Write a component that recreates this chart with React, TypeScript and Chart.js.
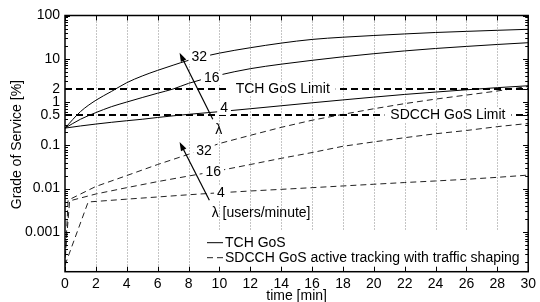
import React, { useEffect, useRef } from "react";
import { Chart, registerables } from "chart.js";

Chart.register(...registerables);

// ---------- data ----------
const yTickValues = [0.001, 0.01, 0.1, 0.5, 1, 2, 10, 100];
const tchLimit = 2;
const sdcchLimit = 0.5;

const tchTime = [0, 1, 2, 3, 4, 5, 6, 7, 8, 10, 12, 14, 16, 18, 20, 22, 24, 26, 28, 30];
const tchGos32 = [0.25, 0.6, 1.1, 1.75, 2.8, 4.0, 5.4, 7.1, 9.2, 13.5, 18, 23, 28, 31.5, 34.5, 37.5, 40.5, 43, 45.5, 48];
const tchGos16 = [0.25, 0.4, 0.57, 0.78, 1.0, 1.27, 1.6, 2.0, 2.7, 4.2, 5.9, 7.5, 9.2, 11.1, 13.1, 15.2, 17.3, 19.3, 21.4, 23.5];
const tchGos4 = [0.25, 0.28, 0.31, 0.34, 0.37, 0.4, 0.44, 0.48, 0.52, 0.6, 0.7, 0.82, 0.96, 1.12, 1.3, 1.5, 1.7, 1.92, 2.15, 2.38];

const sdcchTime32 = [0, 0.2, 2, 4, 6, 8, 10, 12, 14, 16, 18, 20, 22, 24, 26, 28, 30];
const sdcchGos32 = [0.00016, 0.0054, 0.0112, 0.02, 0.036, 0.062, 0.11, 0.17, 0.26, 0.38, 0.52, 0.7, 0.92, 1.17, 1.45, 1.8, 2.3];
const sdcchTime16 = [0, 0.3, 2, 4, 6, 8, 10, 12, 14, 16, 18, 20, 22, 24, 26, 28, 30];
const sdcchGos16 = [0.00025, 0.0052, 0.0075, 0.0105, 0.0145, 0.0195, 0.026, 0.036, 0.05, 0.068, 0.095, 0.12, 0.15, 0.185, 0.22, 0.27, 0.32];
const sdcchTime4 = [0, 1.5, 4, 6, 8, 10, 12, 14, 16, 18, 20, 22, 24, 26, 28, 30];
const sdcchGos4 = [0.00017, 0.0049, 0.0057, 0.0064, 0.0072, 0.008, 0.0088, 0.0096, 0.0105, 0.0115, 0.0126, 0.0138, 0.015, 0.0164, 0.0182, 0.0205];

// annotations (data coordinates)
const curveLabels = [
  { text: "32", t: 8.7, v: 11 },
  { text: "16", t: 9.5, v: 3.6 },
  { text: "4", t: 10.3, v: 0.73 },
  { text: "32", t: 9.0, v: 0.077 },
  { text: "16", t: 9.6, v: 0.024 },
  { text: "4", t: 10.1, v: 0.0079 },
];
const limitLabels = [
  { text: "TCH GoS Limit", t: 14.1, v: tchLimit },
  { text: "SDCCH GoS Limit", t: 24.8, v: sdcchLimit },
];
const arrowFrom = [[9.57, 0.4], [9.35, 0.0054]];
const arrowTo = [[7.42, 13.8], [7.42, 0.12]];
const lambdaLabels = [
  { text: "λ", t: 9.95, v: 0.225, align: "center" },
  { text: "λ [users/minute]", t: 9.5, v: 0.0027, align: "left" },
];
const legendItems = ["TCH GoS", "SDCCH GoS active tracking with traffic shaping"];

const FONT = '14px "Liberation Sans", Arial, Helvetica, sans-serif';

const pts = (xs: number[], ys: number[]) => xs.map((x, i) => ({ x, y: ys[i] }));

const overlay = {
  id: "overlay",
  beforeDatasetsDraw(chart: any) {
    const { ctx, chartArea: a, scales } = chart;
    const x = scales.x;
    ctx.save();
    ctx.strokeStyle = "#8a8a8a";
    ctx.lineWidth = 1;
    ctx.setLineDash([1, 2]);
    x.ticks.forEach((tk: any) => {
      if (tk.value <= x.min || tk.value >= x.max) return;
      const px = Math.round(x.getPixelForValue(tk.value)) + 0.5;
      ctx.beginPath();
      ctx.moveTo(px, a.top);
      ctx.lineTo(px, a.bottom);
      ctx.stroke();
    });
    ctx.restore();
  },
  afterDatasetsDraw(chart: any) {
    const { ctx, chartArea: a, scales } = chart;
    const x = scales.x, y = scales.y;
    ctx.save();
    ctx.font = FONT;
    ctx.textBaseline = "middle";
    ctx.fillStyle = "#000";
    const boxText = (text: string, px: number, py: number, pad: number) => {
      const w = ctx.measureText(text).width;
      ctx.fillStyle = "#fff";
      ctx.fillRect(px - w / 2 - pad, py - 7, w + 2 * pad, 14);
      ctx.fillStyle = "#000";
      ctx.textAlign = "center";
      ctx.fillText(text, px, py + 0.5);
    };
    curveLabels.forEach((l) => boxText(l.text, x.getPixelForValue(l.t), y.getPixelForValue(l.v), 3));
    limitLabels.forEach((l) => boxText(l.text, x.getPixelForValue(l.t), y.getPixelForValue(l.v), 6));
    lambdaLabels.forEach((l) => {
      ctx.textAlign = l.align;
      ctx.fillText(l.text, x.getPixelForValue(l.t), y.getPixelForValue(l.v));
    });
    // arrows
    ctx.strokeStyle = "#000";
    ctx.lineWidth = 1.2;
    arrowFrom.forEach((f, i) => {
      const x0 = x.getPixelForValue(f[0]), y0 = y.getPixelForValue(f[1]);
      const x1 = x.getPixelForValue(arrowTo[i][0]), y1 = y.getPixelForValue(arrowTo[i][1]);
      const ang = Math.atan2(y1 - y0, x1 - x0);
      const hl = 9, hw = 3;
      ctx.beginPath();
      ctx.moveTo(x0, y0);
      ctx.lineTo(x1 - Math.cos(ang) * hl * 0.8, y1 - Math.sin(ang) * hl * 0.8);
      ctx.stroke();
      ctx.beginPath();
      ctx.moveTo(x1, y1);
      ctx.lineTo(x1 - Math.cos(ang) * hl + Math.sin(ang) * hw, y1 - Math.sin(ang) * hl - Math.cos(ang) * hw);
      ctx.lineTo(x1 - Math.cos(ang) * hl - Math.sin(ang) * hw, y1 - Math.sin(ang) * hl + Math.cos(ang) * hw);
      ctx.closePath();
      ctx.fill();
    });
    // legend
    const lx = 200, ly = a.bottom - 41;
    ctx.fillStyle = "#fff";
    ctx.fillRect(lx, ly, a.right - lx - 1, a.bottom - ly - 1);
    ctx.fillStyle = "#000";
    ctx.textAlign = "left";
    legendItems.forEach((txt, i) => {
      const yy = ly + 12 + i * 15;
      ctx.beginPath();
      ctx.lineWidth = 1;
      ctx.strokeStyle = i === 0 ? "#000" : "#222";
      ctx.setLineDash(i === 0 ? [] : [6, 4]);
      ctx.moveTo(lx + 7, yy);
      ctx.lineTo(lx + 23, yy);
      ctx.stroke();
      ctx.setLineDash([]);
      ctx.fillText(txt, lx + 25, yy + 0.5);
    });
    ctx.restore();
  },
  afterDraw(chart: any) {
    const { ctx, chartArea: a, scales } = chart;
    const x = scales.x, y = scales.y;
    ctx.save();
    ctx.strokeStyle = "#000";
    ctx.lineWidth = 1;
    // x ticks top and bottom
    x.ticks.forEach((tk: any) => {
      const px = Math.round(x.getPixelForValue(tk.value)) + 0.5;
      ctx.beginPath();
      ctx.moveTo(px, a.bottom); ctx.lineTo(px, a.bottom - 5);
      ctx.moveTo(px, a.top); ctx.lineTo(px, a.top + 5);
      ctx.stroke();
    });
    // y ticks: majors at labelled values, minors at log sub-decades
    for (let e = -4; e <= 2; e++) {
      for (let k = 1; k <= 9; k++) {
        const v = k * Math.pow(10, e);
        if (v < y.min || v > y.max) continue;
        const major = yTickValues.some((t) => Math.abs(t - v) / v < 1e-6);
        const len = major ? 5 : 3;
        const py = Math.round(y.getPixelForValue(v)) + 0.5;
        ctx.beginPath();
        ctx.moveTo(a.left, py); ctx.lineTo(a.left + len, py);
        ctx.moveTo(a.right, py); ctx.lineTo(a.right - len, py);
        ctx.stroke();
      }
    }
    yTickValues.forEach((v) => {
      const py = Math.round(y.getPixelForValue(v)) + 0.5;
      ctx.beginPath();
      ctx.moveTo(a.left, py); ctx.lineTo(a.left + 5, py);
      ctx.moveTo(a.right, py); ctx.lineTo(a.right - 5, py);
      ctx.stroke();
    });
    // frame
    ctx.lineWidth = 1.5;
    ctx.strokeRect(a.left, a.top, a.right - a.left, a.bottom - a.top);
    // titles
    ctx.fillStyle = "#000";
    ctx.font = FONT;
    ctx.textAlign = "center";
    ctx.textBaseline = "middle";
    ctx.fillText("time [min]", (a.left + a.right) / 2, a.bottom + 24);
    ctx.translate(17, (a.top + a.bottom) / 2 + 1);
    ctx.rotate(-Math.PI / 2);
    ctx.fillText("Grade of Service [%]", 0, 0);
    ctx.restore();
  },
};

export default function App() {
  const ref = useRef<HTMLCanvasElement | null>(null);
  useEffect(() => {
    if (!ref.current) return;
    const solid = (data: any) => ({
      data, borderColor: "#000", borderWidth: 1, pointRadius: 0, fill: false,
      cubicInterpolationMode: "monotone",
    });
    const dashed = (data: any) => ({
      data, borderColor: "#222", borderWidth: 1, borderDash: [6, 4], pointRadius: 0, fill: false,
      tension: 0,
    });
    const limit = (v: number) => ({
      data: [{ x: 0, y: v }, { x: 30, y: v }], borderColor: "#000", borderWidth: 2,
      borderDash: [7, 4], pointRadius: 0, fill: false,
    });
    const chart = new Chart(ref.current, {
      type: "line",
      data: {
        datasets: [
          limit(tchLimit),
          limit(sdcchLimit),
          solid(pts(tchTime, tchGos32)),
          solid(pts(tchTime, tchGos16)),
          solid(pts(tchTime, tchGos4)),
          dashed(pts(sdcchTime32, sdcchGos32)),
          dashed(pts(sdcchTime16, sdcchGos16)),
          dashed(pts(sdcchTime4, sdcchGos4)),
        ] as any,
      },
      options: {
        responsive: false,
        animation: false,
        devicePixelRatio: 1,
        layout: { padding: { top: 15.5, right: 10, left: 0, bottom: 0 } },
        plugins: { legend: { display: false }, tooltip: { enabled: false } },
        scales: {
          x: {
            type: "linear",
            min: 0,
            max: 30,
            grid: { display: false, drawTicks: false },
            border: { display: false },
            ticks: {
              stepSize: 2,
              padding: 4,
              color: "#000",
              font: { family: '"Liberation Sans", Arial, Helvetica, sans-serif', size: 14 },
              maxRotation: 0,
              autoSkip: false,
            },
            afterFit: (s: any) => { s.height = 30.3; },
          },
          y: {
            type: "logarithmic",
            min: 0.00012,
            max: 100,
            grid: { display: false, drawTicks: false },
            border: { display: false },
            afterBuildTicks: (s: any) => { s.ticks = yTickValues.map((v) => ({ value: v })); },
            ticks: {
              padding: 5,
              color: "#000",
              autoSkip: false,
              font: { family: '"Liberation Sans", Arial, Helvetica, sans-serif', size: 14 },
              callback: (v: any) => String(v),
            },
            afterFit: (s: any) => { s.width = 65; },
          },
        },
      },
      plugins: [overlay],
    });
    return () => chart.destroy();
  }, []);
  return (
    <div style={{ position: "fixed", left: 0, top: 0, width: 540, height: 302, background: "#fff" }}>
      <canvas ref={ref} width={540} height={302} style={{ display: "block" }} />
    </div>
  );
}
